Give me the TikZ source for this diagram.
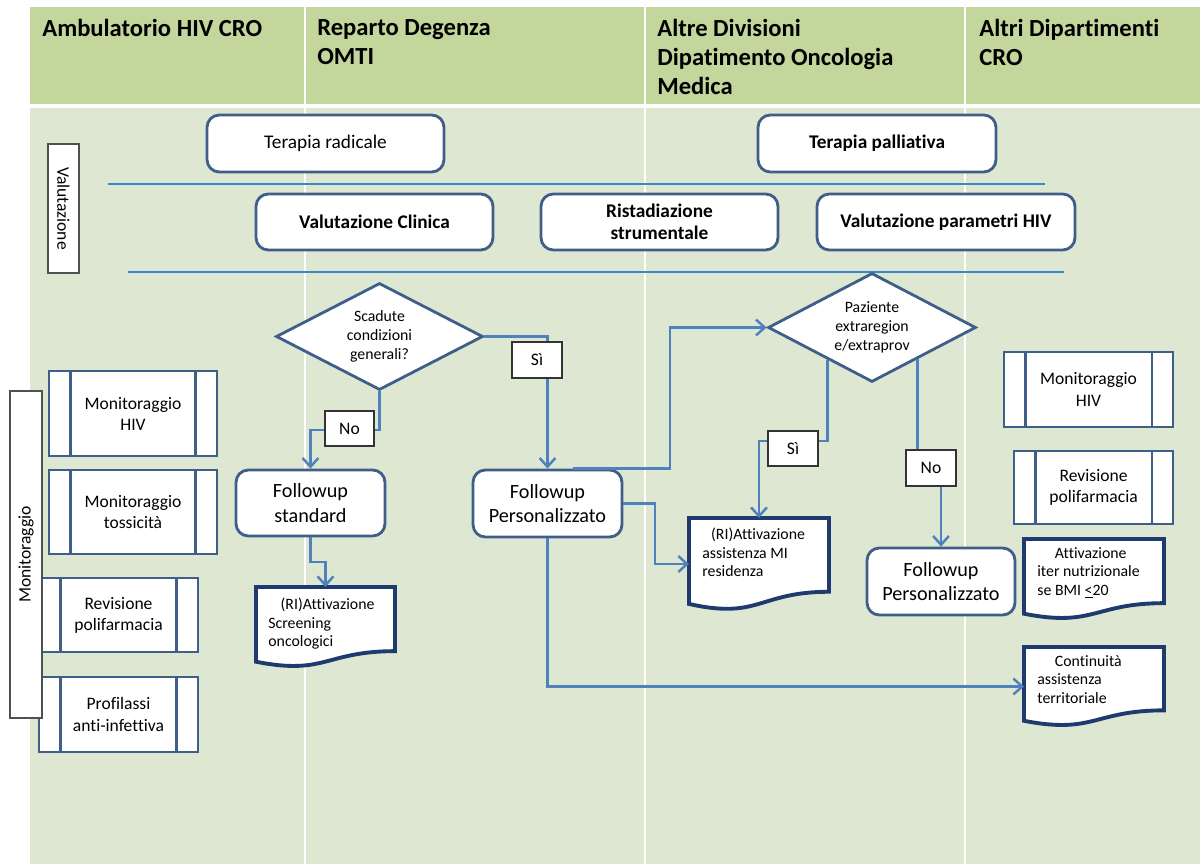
\documentclass[tikz,border=0pt]{standalone}
\usepackage{fontspec}
\setmainfont{Carlito}[Ligatures=NoCommon]
\usetikzlibrary{shapes.geometric,arrows.meta,calc}
\definecolor{headgreen}{HTML}{C3D69B}
\definecolor{lanegreen}{HTML}{DDE7D1}
\definecolor{boxedge}{HTML}{3F5F8A}
\definecolor{connblue}{HTML}{4F81BD}
\definecolor{docnavy}{HTML}{1F3A6E}
\definecolor{sepblue}{HTML}{3A87C7}
\definecolor{sidegray}{HTML}{505050}

\tikzset{
  roundbox/.style={draw=boxedge, line width=1.6pt, rounded corners=7pt, fill=white, align=center, font=\fontsize{11}{13}\selectfont},
  boldbox/.style={roundbox, font=\fontsize{11}{12.5}\selectfont\bfseries},
  fupbox/.style={roundbox, font=\fontsize{11.5}{14}\selectfont},
  decision/.style={diamond, aspect=2, draw=boxedge, line width=1.6pt, fill=white, align=center, inner sep=1pt, font=\fontsize{9}{11}\selectfont},
  subproc/.style={draw=boxedge, line width=1.6pt, fill=white, align=center, font=\fontsize{10}{12}\selectfont,
    path picture={\draw[boxedge, line width=1.6pt]
      ([xshift=12pt]path picture bounding box.north west) -- ([xshift=12pt]path picture bounding box.south west)
      ([xshift=-12pt]path picture bounding box.north east) -- ([xshift=-12pt]path picture bounding box.south east);}},
  docframe/.style={inner sep=0pt, outer sep=0pt},
  docline/.style={draw=docnavy, line width=2.2pt, fill=white},
  doctext/.style={anchor=north west, align=left, inner sep=0pt, font=\fontsize{9}{10.5}\selectfont},
  tag/.style={draw=black!80, line width=0.9pt, fill=white, font=\fontsize{10}{12}\selectfont},
  sidebox/.style={draw=sidegray, line width=0.9pt, fill=white, font=\fontsize{10}{12}\selectfont},
  conn/.style={draw=connblue, line width=1.4pt, -{Straight Barb[length=5pt,width=9pt]}},
  sepline/.style={draw=sepblue, line width=1.6pt},
  lanehead/.style={anchor=north west, align=left, inner sep=0pt, font=\fontsize{14}{16.5}\selectfont\bfseries},
}

% document symbol drawn on the frame of a node
\newcommand{\docsheet}[1]{%
  \filldraw[docline] (#1.north west) -- (#1.north east)
    -- ($(#1.north east)!0.802!(#1.south east)$)
    .. controls ($(#1.north)!0.802!(#1.south)$) and ($(#1.north)!1.107!(#1.south)$)
    .. ($(#1.north west)!0.934!(#1.south west)$) -- cycle;}

\begin{document}
\begin{tikzpicture}[x=0.02cm, y=-0.02cm]
  \useasboundingbox (0,0) rectangle (1200,864);

  % lanes
  \fill[headgreen] (30,7) rectangle (1200,104);
  \fill[lanegreen] (30,108) rectangle (1200,864);
  \foreach \x in {305,645,965} {
      \draw[white, line width=1.2pt] (\x,7) -- (\x,864);
  }
  \node[lanehead] (h1) at (42,19) {Ambulatorio HIV CRO};
  \node[lanehead] (h2) at (317,19) {Reparto Degenza\\OMTI};
  \node[lanehead] (h3) at (657,19) {Altre Divisioni\\Dipatimento Oncologia\\Medica};
  \node[lanehead] (h4) at (979,19) {Altri Dipartimenti\\CRO};

  % separators
  \draw[sepline] (108,184) -- (1045,184);
  \draw[sepline] (128,272) -- (1064,272);

  \node[sidebox, rotate=-90, minimum width=2.58cm, minimum height=0.62cm] (valut) at (63.5,208.5) {Valutazione};

  \node[roundbox, minimum width=4.74cm, minimum height=1.14cm] (radic) at (325.5,143.5) {Terapia radicale};
  \node[boldbox, minimum width=4.76cm, minimum height=1.14cm] (palli) at (877,143.5) {Terapia palliativa};
  \node[boldbox, minimum width=4.74cm, minimum height=1.12cm] (vclin) at (374.5,222) {Valutazione Clinica};
  \node[boldbox, minimum width=4.74cm, minimum height=1.12cm] (ristad) at (659.5,222) {Ristadiazione\\strumentale};
  \node[boldbox, minimum width=5.16cm, minimum height=1.12cm] (vhiv) at (946,222) {Valutazione parametri HIV};

  % monitoring
  \node[subproc, minimum width=3.36cm, minimum height=1.70cm] (monhiv) at (133,413.5) {Monitoraggio\\HIV};
  \node[subproc, minimum width=3.36cm, minimum height=1.68cm] (montox) at (133,512) {Monitoraggio\\tossicità};
  \node[subproc, minimum width=3.18cm, minimum height=1.48cm] (revpol) at (118.5,615) {Revisione\\polifarmacia};
  \node[subproc, minimum width=3.18cm, minimum height=1.50cm] (profil) at (118.5,714.5) {Profilassi\\anti-infettiva};
  \node[sidebox, rotate=90, minimum width=6.54cm, minimum height=0.64cm] (monit) at (26,554.5) {Monitoraggio};

  \node[subproc, minimum width=3.38cm, minimum height=1.50cm] (monhiv2) at (1088.5,389.5) {Monitoraggio\\HIV};
  \node[subproc, minimum width=3.18cm, minimum height=1.46cm] (revpol2) at (1093.5,487.5) {Revisione\\polifarmacia};

  % decisions
  \node[decision, minimum width=4.14cm, minimum height=2.14cm] (scad) at (379.5,336.5) {Scadute\\condizioni\\generali?};
  \node[decision, minimum width=4.16cm, minimum height=2.18cm] (extra) at (872,327.5) {Paziente\\extraregion\\e/extraprov};

  % followup
  \node[fupbox, minimum width=2.98cm, minimum height=1.32cm] (fstd) at (310.5,503) {Followup\\standard};
  \node[fupbox, minimum width=2.98cm, minimum height=1.34cm] (fpers) at (547.5,503.5) {Followup\\Personalizzato};
  \node[fupbox, minimum width=2.96cm, minimum height=1.34cm] (fpers2) at (941,581.5) {Followup\\Personalizzato};

  % documents
  \node[docframe, minimum width=2.78cm, minimum height=1.60cm] (screen) at (325.5,627) {};
  \docsheet{screen}
  \node[doctext] (screentxt) at ($(screen.north west)+(12,11)$) {\hspace{7pt}(RI)Attivazione\\Screening\\oncologici};
  \node[docframe, minimum width=2.80cm, minimum height=1.84cm] (assist) at (759,564) {};
  \docsheet{assist}
  \node[doctext] (assisttxt) at ($(assist.north west)+(13,10)$) {\hspace{5pt}(RI)Attivazione\\assistenza MI\\residenza};
  \node[docframe, minimum width=2.80cm, minimum height=1.60cm] (nutri) at (1094,579) {};
  \docsheet{nutri}
  \node[doctext] (nutritxt) at ($(nutri.north west)+(13,8)$) {\hspace{10pt}Attivazione\\iter nutrizionale\\se BMI \underline{<}20};
  \node[docframe, minimum width=2.80cm, minimum height=1.58cm] (terri) at (1094,686.5) {};
  \docsheet{terri}
  \node[doctext] (territxt) at ($(terri.north west)+(13,8)$) {\hspace{10pt}Continuità\\assistenza\\territoriale};

  % connectors
  \coordinate (j1) at (310.5,430);
  \coordinate (j2) at (325.5,562);
  \coordinate (j3) at (670,327.5);
  \coordinate (j4) at (655,564);
  \coordinate (j5) at (759,441);
  \coordinate (j6) at (941,468);
  \draw[conn] (scad.south) |- (j1) -- (fstd.north);
  \draw[conn] (scad.east) -| (fpers.north);
  \draw[conn] (fstd.south) |- (j2) -- (screen.north);
  \draw[conn] ($(fpers.north)+(25,0)$) -| (j3) -- (extra.west);
  \draw[conn] (fpers.east) -| (j4) -- (assist.west);
  \draw[conn] (fpers.south) |- (terri.west);
  \draw[conn] (extra.216) |- (j5) -- (assist.north);
  \draw[conn] (extra.325) |- (j6) -- (fpers2.north);

  % answers
  \node[tag, minimum width=1.0cm, minimum height=0.72cm] (si1) at (537,360) {Sì};
  \node[tag, minimum width=0.98cm, minimum height=0.70cm] (no1) at (349.5,428.5) {No};
  \node[tag, minimum width=1.0cm, minimum height=0.70cm] (si2) at (793,448.5) {Sì};
  \node[tag, minimum width=1.0cm, minimum height=0.72cm] (no2) at (931,468) {No};
\end{tikzpicture}
\end{document}
